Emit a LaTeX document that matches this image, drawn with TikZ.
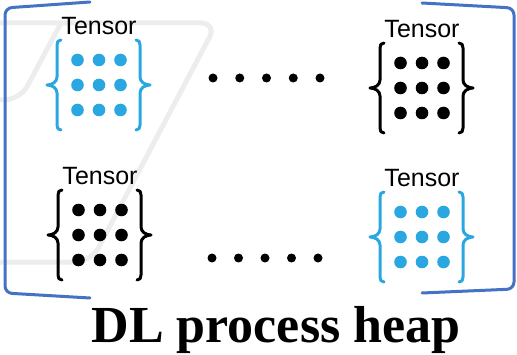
\documentclass[tikz,border=0pt]{standalone}
\usepackage{fontspec}
\setmainfont{Liberation Serif}
\setsansfont{Liberation Sans}
\usetikzlibrary{positioning}
\definecolor{cheap}{HTML}{4472C4}
\definecolor{clight}{HTML}{2AA7E1}
\definecolor{cwmark}{HTML}{EDEDED}
\tikzset{
  every picture/.style={x=1pt, y=1pt, line cap=round, line join=round},
  tensor/.style={minimum width=76pt, minimum height=90pt, inner sep=0pt},
  tlabel/.style={font=\sffamily\fontsize{25}{28}\selectfont, inner sep=0pt},
  heap/.style={draw=cheap, line width=3pt, rounded corners=7pt},
  wmark/.style={draw=cwmark, line width=5pt, rounded corners=16pt},
  title/.style={font=\rmfamily\bfseries\fontsize{52}{56}\selectfont, inner sep=0pt, anchor=base},
  lcurly/.pic={\draw[line width=3pt] (4,45) .. controls (1,45) and (0,43) .. (0,40) -- (0,8)
    .. controls (0,3) and (-5,0) .. (-10,0) .. controls (-5,0) and (0,-3) .. (0,-8)
    -- (0,-40) .. controls (0,-43) and (1,-45) .. (4,-45);},
}
\begin{document}
\begin{tikzpicture}
  \useasboundingbox (0,0) rectangle (517,354);
  \draw[wmark] (0,331) -- (217,331) -- (91,92) -- (0,92);
  \draw[wmark] (61,331) -- (20,254) -- (0,254);
  \draw[heap] (90,352) -- (5,346) -- (5,61) -- (90,56);
  \draw[heap] (422,351) -- (514,346) -- (514,65) -- (422,61);
  \node[tensor] (tl) at (99,269) {};
  \node[tensor] (tr) at (422,266) {};
  \node[tensor] (bl) at (100,119) {};
  \node[tensor] (br) at (422,117) {};
  \foreach \t/\c in {tl/clight, tr/black, bl/black, br/clight} {
    \pic[color=\c] at ([xshift=-42pt]\t.center) {lcurly};
    \pic[color=\c, xscale=-1] at ([xshift=41pt]\t.center) {lcurly};
    \foreach \i in {-1,0,1} \foreach \j in {-1,0,1}
      \fill[\c] (\t) ++(\i*21.5,\j*25) circle (6.3);
    \node[tlabel, above=4.5pt of \t] (\t-lbl) {Tensor};
  }
  \foreach \k in {0,...,4} {
    \fill (213+\k*26.75,276) circle (4.5);
    \fill (212+\k*26.5,96) circle (4.5);
  }
  \node[title] (heapname) at (276,11.5) {DL process heap};
\end{tikzpicture}
\end{document}
